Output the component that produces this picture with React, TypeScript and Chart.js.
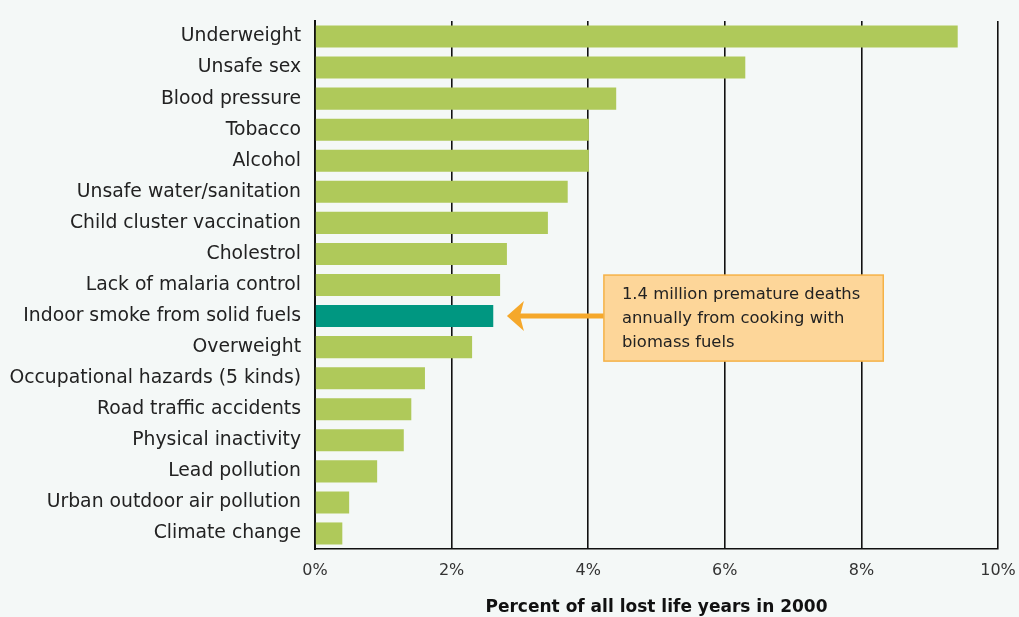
import React, { useEffect, useRef } from "react";
import { Chart, registerables } from "chart.js";

Chart.register(...registerables);

const categories = [
  "Underweight",
  "Unsafe sex",
  "Blood pressure",
  "Tobacco",
  "Alcohol",
  "Unsafe water/sanitation",
  "Child cluster vaccination",
  "Cholestrol",
  "Lack of malaria control",
  "Indoor smoke from solid fuels",
  "Overweight",
  "Occupational hazards (5 kinds)",
  "Road traffic accidents",
  "Physical inactivity",
  "Lead pollution",
  "Urban outdoor air pollution",
  "Climate change",
];
const values = [9.41, 6.3, 4.41, 4.01, 4.01, 3.7, 3.41, 2.81, 2.71, 2.61, 2.3, 1.61, 1.41, 1.3, 0.91, 0.5, 0.4];
const highlightCategory = "Indoor smoke from solid fuels";
const xMin = 0;
const xMax = 10;
const xStep = 2;
const axisTitle = "Percent of all lost life years in 2000";
const calloutLines = ["1.4 million premature deaths", "annually from cooking with", "biomass fuels"];
const calloutArrowTip = 2.81;
const calloutBoxStart = 4.23;
const calloutBoxEnd = 8.32;

const FONT = "'DejaVu Sans', sans-serif";
const BG = "#f4f8f7";
const GREEN = "#afc95a";
const TEAL = "#009781";

const calloutPlugin = {
  id: "callout",
  afterDatasetsDraw(chart: any) {
    const { ctx, scales } = chart;
    const x = scales.x;
    const y = scales.y;
    const idx = categories.indexOf(highlightCategory);
    const cy = y.getPixelForValue(idx);
    const step = Math.abs(y.getPixelForValue(1) - y.getPixelForValue(0));
    const top = cy - 1.32 * step;
    const bottom = cy + 1.45 * step;
    const left = x.getPixelForValue(calloutBoxStart);
    const right = x.getPixelForValue(calloutBoxEnd);
    const tip = x.getPixelForValue(calloutArrowTip);
    ctx.save();
    ctx.strokeStyle = "#f5a82b";
    ctx.fillStyle = "#f5a82b";
    ctx.lineWidth = 5;
    ctx.beginPath();
    ctx.moveTo(tip + 12, cy);
    ctx.lineTo(left, cy);
    ctx.stroke();
    ctx.beginPath();
    ctx.moveTo(tip, cy);
    ctx.lineTo(tip + 17, cy - 15);
    ctx.lineTo(tip + 13, cy);
    ctx.lineTo(tip + 17, cy + 15);
    ctx.closePath();
    ctx.fill();
    ctx.fillStyle = "#fdd699";
    ctx.fillRect(left, top, right - left, bottom - top);
    ctx.strokeStyle = "#f5b247";
    ctx.lineWidth = 1.5;
    ctx.strokeRect(left, top, right - left, bottom - top);
    ctx.fillStyle = "#222";
    ctx.font = `16.4px ${FONT}`;
    ctx.textAlign = "left";
    ctx.textBaseline = "middle";
    calloutLines.forEach((line, i) => {
      ctx.fillText(line, left + 18, top + 20 + i * 24);
    });
    ctx.restore();
  },
};

export default function App() {
  const canvasRef = useRef<HTMLCanvasElement | null>(null);

  useEffect(() => {
    document.body.style.margin = "0";
    document.body.style.background = BG;
    const canvas = canvasRef.current;
    if (!canvas) return;
    const chart = new Chart(canvas, {
      type: "bar",
      data: {
        labels: categories,
        datasets: [
          {
            data: values,
            backgroundColor: categories.map((c) => (c === highlightCategory ? TEAL : GREEN)),
            barPercentage: 0.71,
            categoryPercentage: 1,
          },
        ],
      },
      options: {
        indexAxis: "y",
        animation: false,
        responsive: false,
        maintainAspectRatio: false,
        layout: { padding: { top: 21, right: 21, left: 0, bottom: 0 } },
        plugins: {
          legend: { display: false },
          tooltip: { enabled: false },
        },
        scales: {
          x: {
            min: xMin,
            max: xMax,
            afterFit(scale: any) {
              scale.height = 68;
              scale.paddingLeft = 0;
              scale.paddingRight = 0;
            },
            ticks: {
              stepSize: xStep,
              padding: 12,
              color: "#333",
              font: { family: FONT, size: 16 },
              callback: (v: any) => `${v}%`,
            },
            grid: { color: "#111", lineWidth: 1.6, drawTicks: false },
            border: { display: true, color: "#111", width: 1.6 },
            title: {
              display: true,
              text: axisTitle,
              color: "#111",
              font: { family: FONT, size: 17, weight: "bold", lineHeight: 1 },
              padding: { top: 0, bottom: 1 },
            },
          },
          y: {
            afterFit(scale: any) {
              scale.width = 315;
              scale.paddingTop = 0;
              scale.paddingBottom = 0;
            },
            ticks: {
              padding: 14,
              color: "#222",
              font: { family: FONT, size: 18.8 },
              autoSkip: false,
            },
            grid: { display: false, drawTicks: false },
            border: { display: true, color: "#111", width: 2 },
          },
        },
      },
      plugins: [calloutPlugin],
    });
    return () => chart.destroy();
  }, []);

  return (
    <div style={{ position: "fixed", left: 0, top: 0, width: 1019, height: 617, background: BG }}>
      <canvas ref={canvasRef} width={1019} height={617} style={{ display: "block" }} />
    </div>
  );
}
